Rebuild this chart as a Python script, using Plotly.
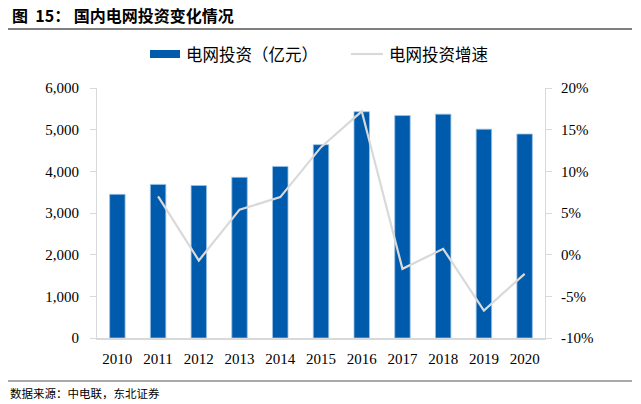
import plotly.graph_objects as go

years = ["2010", "2011", "2012", "2013", "2014", "2015", "2016", "2017", "2018", "2019", "2020"]
invest = [3448, 3687, 3661, 3856, 4118, 4640, 5431, 5339, 5373, 5012, 4896]
growth = [None, 7.0, -0.7, 5.4, 6.9, 12.9, 17.2, -1.7, 0.7, -6.7, -2.3]
series_names = ["电网投资（亿元）", "电网投资增速"]
left_ticks = [0, 1000, 2000, 3000, 4000, 5000, 6000]
right_ticks = [-10, -5, 0, 5, 10, 15, 20]
right_labels = ["-10%", "-5%", "0%", "5%", "10%", "15%", "20%"]

W, H = 641, 404
L, R, T, B = 97, 545, 88, 338

def px(x):
    return (x - L) / (R - L)

def py(y):
    return (B - y) / (B - T)

BLUE = "#005BAC"
GRAY = "#D9D9D9"
SERIF = "Liberation Serif, Times New Roman, serif"
CJK = "Noto Sans CJK SC, sans-serif"

fig = go.Figure()
fig.add_trace(go.Bar(x=years, y=invest, name=series_names[0], marker=dict(color=BLUE, line=dict(color="#9CC3E6", width=0.8)),
                     yaxis="y", showlegend=False))
fig.add_trace(go.Scatter(x=years, y=growth, name=series_names[1], mode="lines", line=dict(color=GRAY, width=2.2),
                         yaxis="y2", showlegend=False, connectgaps=False))

fig.update_layout(
    width=W, height=H,
    margin=dict(l=L, r=W - R, t=T, b=H - B, pad=0),
    paper_bgcolor="white", plot_bgcolor="white",
    bargap=0.62,
    xaxis=dict(showline=True, linecolor=GRAY, linewidth=1.5, ticks="", showgrid=False,
               tickfont=dict(family=SERIF, size=15, color="black"), ticklabelstandoff=6),
    yaxis=dict(range=[0, 6000], tickvals=left_ticks, tickformat=",", showline=True, linecolor=GRAY, linewidth=1.2,
               ticks="outside", ticklen=6, tickcolor=GRAY, showgrid=False, zeroline=False,
               tickfont=dict(family=SERIF, size=15, color="black"), ticklabelstandoff=8),
    yaxis2=dict(range=[-10, 20], tickvals=right_ticks, ticktext=right_labels, overlaying="y", side="right",
                showline=True, linecolor=GRAY, linewidth=1.2, ticks="outside", ticklen=6, tickcolor=GRAY,
                showgrid=False, zeroline=False, tickfont=dict(family=SERIF, size=15, color="black"), ticklabelstandoff=6),
    font=dict(family=CJK),
)

shapes = []
annos = []
# title + underline
annos.append(dict(text="<b>图&nbsp;&nbsp;15：&nbsp;国内电网投资变化情况</b>", x=px(10), y=py(15), xref="paper", yref="paper",
                  xanchor="left", yanchor="middle", showarrow=False, font=dict(family=CJK, size=16, color="black")))
shapes.append(dict(type="line", xref="paper", yref="paper", x0=px(8), x1=px(632), y0=py(29), y1=py(29),
                   line=dict(color="#555555", width=1.5)))
# footer
shapes.append(dict(type="line", xref="paper", yref="paper", x0=px(8), x1=px(632), y0=py(381), y1=py(381),
                   line=dict(color="#555555", width=1.2)))
annos.append(dict(text="数据来源：中电联，东北证券", x=px(8), y=py(393), xref="paper", yref="paper",
                  xanchor="left", yanchor="middle", showarrow=False, font=dict(family=CJK, size=11.5, color="black")))
# legend
shapes.append(dict(type="rect", xref="paper", yref="paper", x0=px(150), x1=px(180), y0=py(58), y1=py(50),
                   fillcolor=BLUE, line=dict(width=0)))
annos.append(dict(text=series_names[0], x=px(184), y=py(54), xref="paper", yref="paper", xanchor="left",
                  yanchor="middle", showarrow=False, font=dict(family=CJK, size=16.5, color="black")))
shapes.append(dict(type="line", xref="paper", yref="paper", x0=px(351), x1=px(383), y0=py(54), y1=py(54),
                   line=dict(color=GRAY, width=2.2)))
annos.append(dict(text=series_names[1], x=px(387), y=py(54), xref="paper", yref="paper", xanchor="left",
                  yanchor="middle", showarrow=False, font=dict(family=CJK, size=16.5, color="black")))

fig.update_layout(shapes=shapes, annotations=annos)
fig.write_html("out.html", config={"displayModeBar": False},
               post_script="document.body.style.margin='0';document.body.style.padding='0';")
